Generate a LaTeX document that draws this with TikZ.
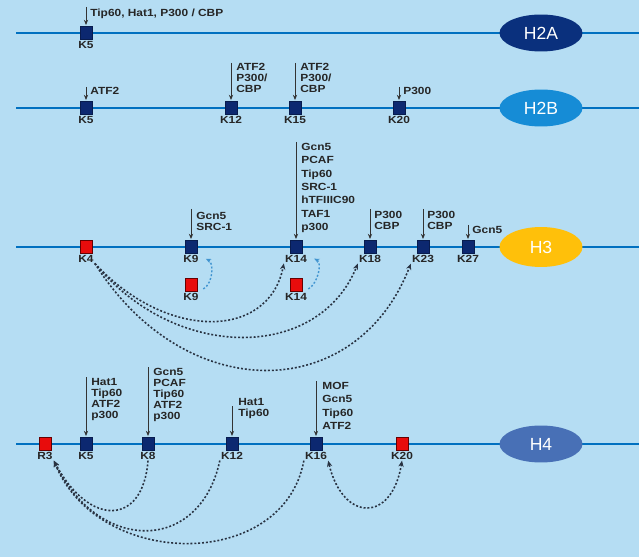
\documentclass[tikz,border=0pt]{standalone}
\usepackage{fontspec}
\setmainfont{Liberation Sans}
\newfontfamily\tagfont[FakeStretch=1.15]{Liberation Sans Bold}
\usepackage{xcolor}
\usepackage{tikz}
\usetikzlibrary{shapes.geometric, arrows.meta, positioning}
\definecolor{skyback}{RGB}{181, 221, 243}
\definecolor{strandblue}{RGB}{0, 112, 192}
\definecolor{siteblue}{RGB}{12, 40, 112}
\definecolor{sitered}{RGB}{232, 12, 12}
\definecolor{htwoa}{RGB}{10, 48, 125}
\definecolor{htwob}{RGB}{22, 140, 214}
\definecolor{hthree}{RGB}{255, 192, 10}
\definecolor{hfour}{RGB}{72, 112, 182}
\definecolor{curvegray}{RGB}{40, 50, 65}

\begin{document}
\begin{tikzpicture}[
    x=0.02cm, y=-0.02cm,
    strand/.style={strandblue, line width=1.7pt},
    site/.style={rectangle, draw=siteblue!70!black, fill=siteblue, minimum width=0.24cm,
                 minimum height=0.26cm, inner sep=0pt, line width=0.4pt,
                 label distance=0.6pt},
    redsite/.style={site, draw=red!40!black, fill=sitered},
    lab/.style={font=\tagfont\fontsize{5.9}{6.2}\selectfont, text=black!85, inner sep=0.5pt},
    enz/.style={anchor=north west, align=left, inner sep=0pt, text=black!85,
                font=\tagfont\fontsize{5.9}{6.2}\selectfont},
    enzwide/.style={enz, font=\tagfont\fontsize{5.9}{7.6}\selectfont},
    enzarrow/.style={-{Stealth[length=3pt, width=2.4pt]}, line width=0.5pt, black!80,
                     shorten >=0.6pt},
    histone/.style={ellipse, minimum width=1.66cm, minimum height=0.74cm, text=white,
                    inner sep=0pt, font=\fontsize{10}{12}\selectfont},
    link/.style={curvegray, line width=0.9pt, dash pattern=on 1.1pt off 1.1pt,
                 -{Stealth[length=3.5pt, width=3pt]}},
    turn/.style={strandblue!75, line width=0.8pt, dash pattern=on 1.1pt off 1.1pt,
                 -{Stealth[length=3pt, width=2.6pt]}}
]
    % Background
    \fill[skyback] (0,0) rectangle (639,557);
    \useasboundingbox (0,0) rectangle (639,557);

    % Strands
    \coordinate (h2aL) at (16,33);  \coordinate (h2aR) at (639,33);
    \coordinate (h2bL) at (16,108); \coordinate (h2bR) at (639,108);
    \coordinate (h3L) at (16,247);  \coordinate (h3R) at (639,247);
    \coordinate (h4L) at (16,444);  \coordinate (h4R) at (639,444);
    \draw[strand] (h2aL) -- (h2aR);
    \draw[strand] (h2bL) -- (h2bR);
    \draw[strand] (h3L) -- (h3R);
    \draw[strand] (h4L) -- (h4R);

    % Histones
    \node[histone, fill=htwoa] (h2a) at (541,33) {H2A};
    \node[histone, fill=htwob] (h2b) at (541,108) {H2B};
    \node[histone, fill=hthree, minimum height=0.8cm] (h3) at (541,247) {H3};
    \node[histone, fill=hfour] (h4) at (541,444) {H4};

    % H2A sites
    \node[site, label={[lab, name=h2aK5l]below:K5}] (h2aK5) at (86,33) {};
    \coordinate (h2aK5a) at (86,7);
    \node[enz] (h2aK5e) at (90,9) {Tip60, Hat1, P300 / CBP};
    \draw[enzarrow] (h2aK5a) -- (h2aK5);

    % H2B sites
    \node[site, label={[lab, name=h2bK5l]below:K5}] (h2bK5) at (86,108) {};
    \node[site, label={[lab, name=h2bK12l]below:K12}] (h2bK12) at (231,108) {};
    \node[site, label={[lab, name=h2bK15l]below:K15}] (h2bK15) at (295,108) {};
    \node[site, label={[lab, name=h2bK20l]below:K20}] (h2bK20) at (399,108) {};
    \coordinate (h2bK5a) at (86,87);
    \coordinate (h2bK12a) at (231,63);
    \coordinate (h2bK15a) at (295,63);
    \coordinate (h2bK20a) at (399,87);
    \node[enz] (h2bK5e) at (90,87) {ATF2};
    \node[enz] (h2bK12e) at (236,63) {ATF2\\P300/\\CBP};
    \node[enz] (h2bK15e) at (300,63) {ATF2\\P300/\\CBP};
    \node[enz] (h2bK20e) at (403,87) {P300};
    \draw[enzarrow] (h2bK5a) -- (h2bK5);
    \draw[enzarrow] (h2bK12a) -- (h2bK12);
    \draw[enzarrow] (h2bK15a) -- (h2bK15);
    \draw[enzarrow] (h2bK20a) -- (h2bK20);

    % H3 sites
    \node[redsite, label={[lab, name=h3K4l]below:K4}] (h3K4) at (86,247) {};
    \node[site, label={[lab, name=h3K9l]below:K9}] (h3K9) at (191,247) {};
    \node[site, label={[lab, name=h3K14l]below:K14}] (h3K14) at (296,247) {};
    \node[site, label={[lab, name=h3K18l]below:K18}] (h3K18) at (370,247) {};
    \node[site, label={[lab, name=h3K23l]below:K23}] (h3K23) at (423,247) {};
    \node[site, label={[lab, name=h3K27l]below:K27}] (h3K27) at (468,247) {};
    \node[redsite, label={[lab, name=h3K9ml]below:K9}] (h3K9m) at (191,285) {};
    \node[redsite, label={[lab, name=h3K14ml]below:K14}] (h3K14m) at (296,285) {};
    \coordinate (h3K9a) at (191,209);
    \coordinate (h3K14a) at (296,142);
    \coordinate (h3K18a) at (370,209);
    \coordinate (h3K23a) at (423,209);
    \coordinate (h3K27a) at (468,225);
    \node[enz] (h3K9e) at (196,212) {Gcn5\\SRC-1};
    \node[enzwide] (h3K14e) at (301,143) {Gcn5\\PCAF\\Tip60\\SRC-1\\hTFIIIC90\\TAF1\\p300};
    \node[enz] (h3K18e) at (374,211) {P300\\CBP};
    \node[enz] (h3K23e) at (427,211) {P300\\CBP};
    \node[enz] (h3K27e) at (472,226) {Gcn5};
    \draw[enzarrow] (h3K9a) -- (h3K9);
    \draw[enzarrow] (h3K14a) -- (h3K14);
    \draw[enzarrow] (h3K18a) -- (h3K18);
    \draw[enzarrow] (h3K23a) -- (h3K23);
    \draw[enzarrow] (h3K27a) -- (h3K27);

    % H3 crosstalk
    \draw[link] (h3K4l.south east) .. controls +(72,78) and +(-15,76) .. (h3K14l.south west);
    \draw[link] (h3K4l.south east) .. controls +(80,98) and +(-40,98) .. (h3K18l.south west);
    \draw[link] (h3K4l.south east) .. controls +(90,143) and +(-55,141) .. (h3K23l.south west);
    \draw[turn] ([xshift=0.12cm, yshift=-0.08cm]h3K9m.east) .. controls +(10,-6) and +(8,4) ..
        ([xshift=0.12cm]h3K9l.east);
    \draw[turn] ([xshift=0.12cm, yshift=-0.08cm]h3K14m.east) .. controls +(10,-6) and +(8,4) ..
        ([xshift=0.12cm]h3K14l.east);

    % H4 sites
    \node[redsite, label={[lab, name=h4R3l]below:R3}] (h4R3) at (45,444) {};
    \node[site, label={[lab, name=h4K5l]below:K5}] (h4K5) at (86,444) {};
    \node[site, label={[lab, name=h4K8l]below:K8}] (h4K8) at (148,444) {};
    \node[site, label={[lab, name=h4K12l]below:K12}] (h4K12) at (232,444) {};
    \node[site, label={[lab, name=h4K16l]below:K16}] (h4K16) at (316,444) {};
    \node[redsite, label={[lab, name=h4K20l]below:K20}] (h4K20) at (402,444) {};
    \coordinate (h4K5a) at (86,377);
    \coordinate (h4K8a) at (148,367);
    \coordinate (h4K12a) at (232,406);
    \coordinate (h4K16a) at (316,381);
    \node[enz] (h4K5e) at (91,378) {Hat1\\Tip60\\ATF2\\p300};
    \node[enz] (h4K8e) at (153,368) {Gcn5\\PCAF\\Tip60\\ATF2\\p300};
    \node[enz] (h4K12e) at (238,398) {Hat1\\Tip60};
    \node[enzwide] (h4K16e) at (322,382) {MOF\\Gcn5\\Tip60\\ATF2};
    \draw[enzarrow] (h4K5a) -- (h4K5);
    \draw[enzarrow] (h4K8a) -- (h4K8);
    \draw[enzarrow] (h4K12a) -- (h4K12);
    \draw[enzarrow] (h4K16a) -- (h4K16);

    % H4 crosstalk
    \draw[link] (h4K8l.south) .. controls +(-5,66) and +(35,66) .. (h4R3l.south east);
    \draw[link] (h4K12l.south west) .. controls +(-20,93) and +(45,93) .. (h4R3l.south east);
    \draw[link] (h4K16l.south west) .. controls +(-20,110) and +(45,110) .. (h4R3l.south east);
    \draw[link, {Stealth[length=3.5pt, width=3pt]}-{Stealth[length=3.5pt, width=3pt]}]
        (h4K20l.south) .. controls +(-10,62) and +(15,62) .. (h4K16l.south east);
\end{tikzpicture}
\end{document}
